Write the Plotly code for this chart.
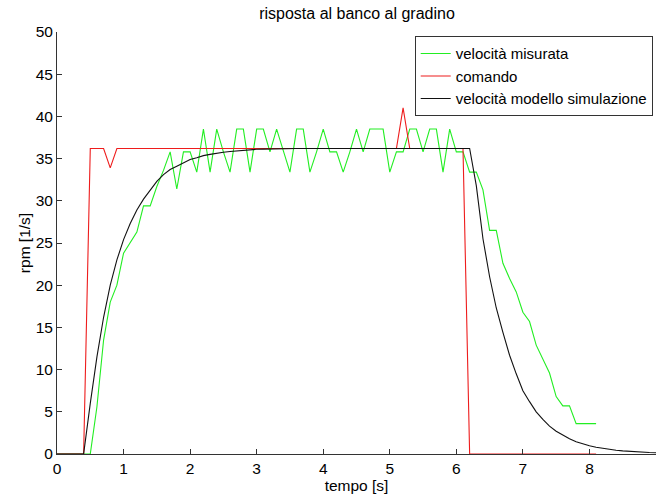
import numpy as np
import plotly.graph_objects as go

# time grid (s), 0.1 s sampling
time_meas = [round(i * 0.1, 1) for i in range(82)]   # 0 .. 8.1
time_sim = [round(i * 0.1, 1) for i in range(91)]    # 0 .. 9.0

velocita_misurata = [
    0, 0, 0, 0, 0, 0, 5.6, 13.5, 18.0, 20.0,
    23.8, 25.0, 26.3, 29.4, 29.4, 31.7, 33.6, 35.8, 31.4, 35.8,
    35.8, 33.4, 38.5, 33.4, 38.5, 35.8, 33.4, 38.5, 38.5, 33.4,
    38.5, 38.5, 35.8, 38.5, 35.8, 33.4, 38.5, 38.5, 33.4, 35.8,
    38.5, 35.8, 35.8, 33.4, 35.8, 38.5, 35.8, 38.5, 38.5, 38.5,
    33.4, 35.8, 35.8, 38.5, 38.5, 35.8, 38.5, 38.5, 33.4, 38.5,
    35.8, 35.8, 33.4, 33.4, 31.3, 26.5, 26.5, 22.6, 20.8, 19.2,
    16.8, 15.7, 12.9, 11.3, 9.6, 6.8, 5.7, 5.7, 3.6, 3.6,
    3.6, 3.6,
]

comando = [
    0, 0, 0, 0, 0, 36.2, 36.2, 36.2, 33.9, 36.2,
    36.2, 36.2, 36.2, 36.2, 36.2, 36.2, 36.2, 36.2, 36.2, 36.2,
    36.2, 36.2, 36.2, 36.2, 36.2, 36.2, 36.2, 36.2, 36.2, 36.2,
    36.2, 36.2, 36.2, 36.2, 36.2, 36.2, 36.2, 36.2, 36.2, 36.2,
    36.2, 36.2, 36.2, 36.2, 36.2, 36.2, 36.2, 36.2, 36.2, 36.2,
    36.2, 36.2, 41.0, 36.2, 36.2, 36.2, 36.2, 36.2, 36.2, 36.2,
    36.2, 36.2, 0, 0, 0, 0, 0, 0, 0, 0,
    0, 0, 0, 0, 0, 0, 0, 0, 0, 0,
    0, 0,
]

velocita_modello = [
    0, 0, 0, 0, 0, 6.0, 11.5, 16.2, 20.0, 23.0,
    25.4, 27.3, 28.9, 30.2, 31.3, 32.3, 33.1, 33.7, 34.1, 34.5,
    34.9, 35.1, 35.35, 35.5, 35.65, 35.75, 35.85, 35.92, 36.0, 36.05,
    36.1, 36.12, 36.15, 36.17, 36.18, 36.2, 36.2, 36.2, 36.2, 36.2,
    36.2, 36.2, 36.2, 36.2, 36.2, 36.2, 36.2, 36.2, 36.2, 36.2,
    36.2, 36.2, 36.2, 36.2, 36.2, 36.2, 36.2, 36.2, 36.2, 36.2,
    36.2, 36.2, 36.2, 31.8, 25.5, 21.0, 17.3, 14.4, 11.7, 9.5,
    7.5, 6.2, 5.0, 4.1, 3.3, 2.7, 2.2, 1.8, 1.45, 1.2,
    0.97, 0.8, 0.66, 0.54, 0.45, 0.37, 0.3, 0.25, 0.2, 0.17,
    0.14,
]

x_ticks = [0, 1, 2, 3, 4, 5, 6, 7, 8, 9]
y_ticks = [0, 5, 10, 15, 20, 25, 30, 35, 40, 45, 50]

FONT = "Liberation Sans, Arial, sans-serif"
FS = 15.5

fig = go.Figure()
fig.add_trace(go.Scatter(x=time_meas, y=velocita_misurata, mode="lines",
                         name="velocità misurata",
                         line=dict(color="#22ee22", width=1.1)))
fig.add_trace(go.Scatter(x=time_meas, y=comando, mode="lines",
                         name="comando",
                         line=dict(color="#ee1c1c", width=1.1)))
fig.add_trace(go.Scatter(x=time_sim, y=velocita_modello, mode="lines",
                         name="velocità modello simulazione",
                         line=dict(color="#111111", width=1.1)))

fig.update_layout(
    width=656, height=496,
    margin=dict(l=57, r=0, t=32, b=42),
    paper_bgcolor="white", plot_bgcolor="white",
    font=dict(family=FONT, size=FS, color="#000000"),
    title=dict(text="risposta al banco al gradino", x=(357) / 656, xanchor="center",
               y=1 - 13 / 496, yanchor="middle",
               font=dict(family=FONT, size=16, color="#000000")),
    showlegend=True,
    legend=dict(x=0.9945, xanchor="right", y=0.99, yanchor="top",
                bgcolor="white", bordercolor="#333333", borderwidth=1,
                font=dict(family=FONT, size=15, color="#000000"),
                tracegroupgap=0, itemclick=False),
    xaxis=dict(range=[0, 9], tickmode="array", tickvals=x_ticks,
               ticktext=[str(v) for v in x_ticks],
               ticks="inside", ticklen=5, tickcolor="#333333",
               showline=True, linecolor="#333333", linewidth=1,
               showgrid=False, zeroline=False,
               tickfont=dict(family=FONT, size=FS),
               title=dict(text="tempo [s]", standoff=4,
                          font=dict(family=FONT, size=FS))),
    yaxis=dict(range=[0, 50], tickmode="array", tickvals=y_ticks,
               ticktext=[str(v) for v in y_ticks],
               ticks="inside", ticklen=5, tickcolor="#333333",
               showline=True, linecolor="#333333", linewidth=1,
               showgrid=False, zeroline=False,
               tickfont=dict(family=FONT, size=FS),
               title=dict(text="rpm [1/s]", standoff=1,
                          font=dict(family=FONT, size=FS))),
)

fig.write_html("out.html")
